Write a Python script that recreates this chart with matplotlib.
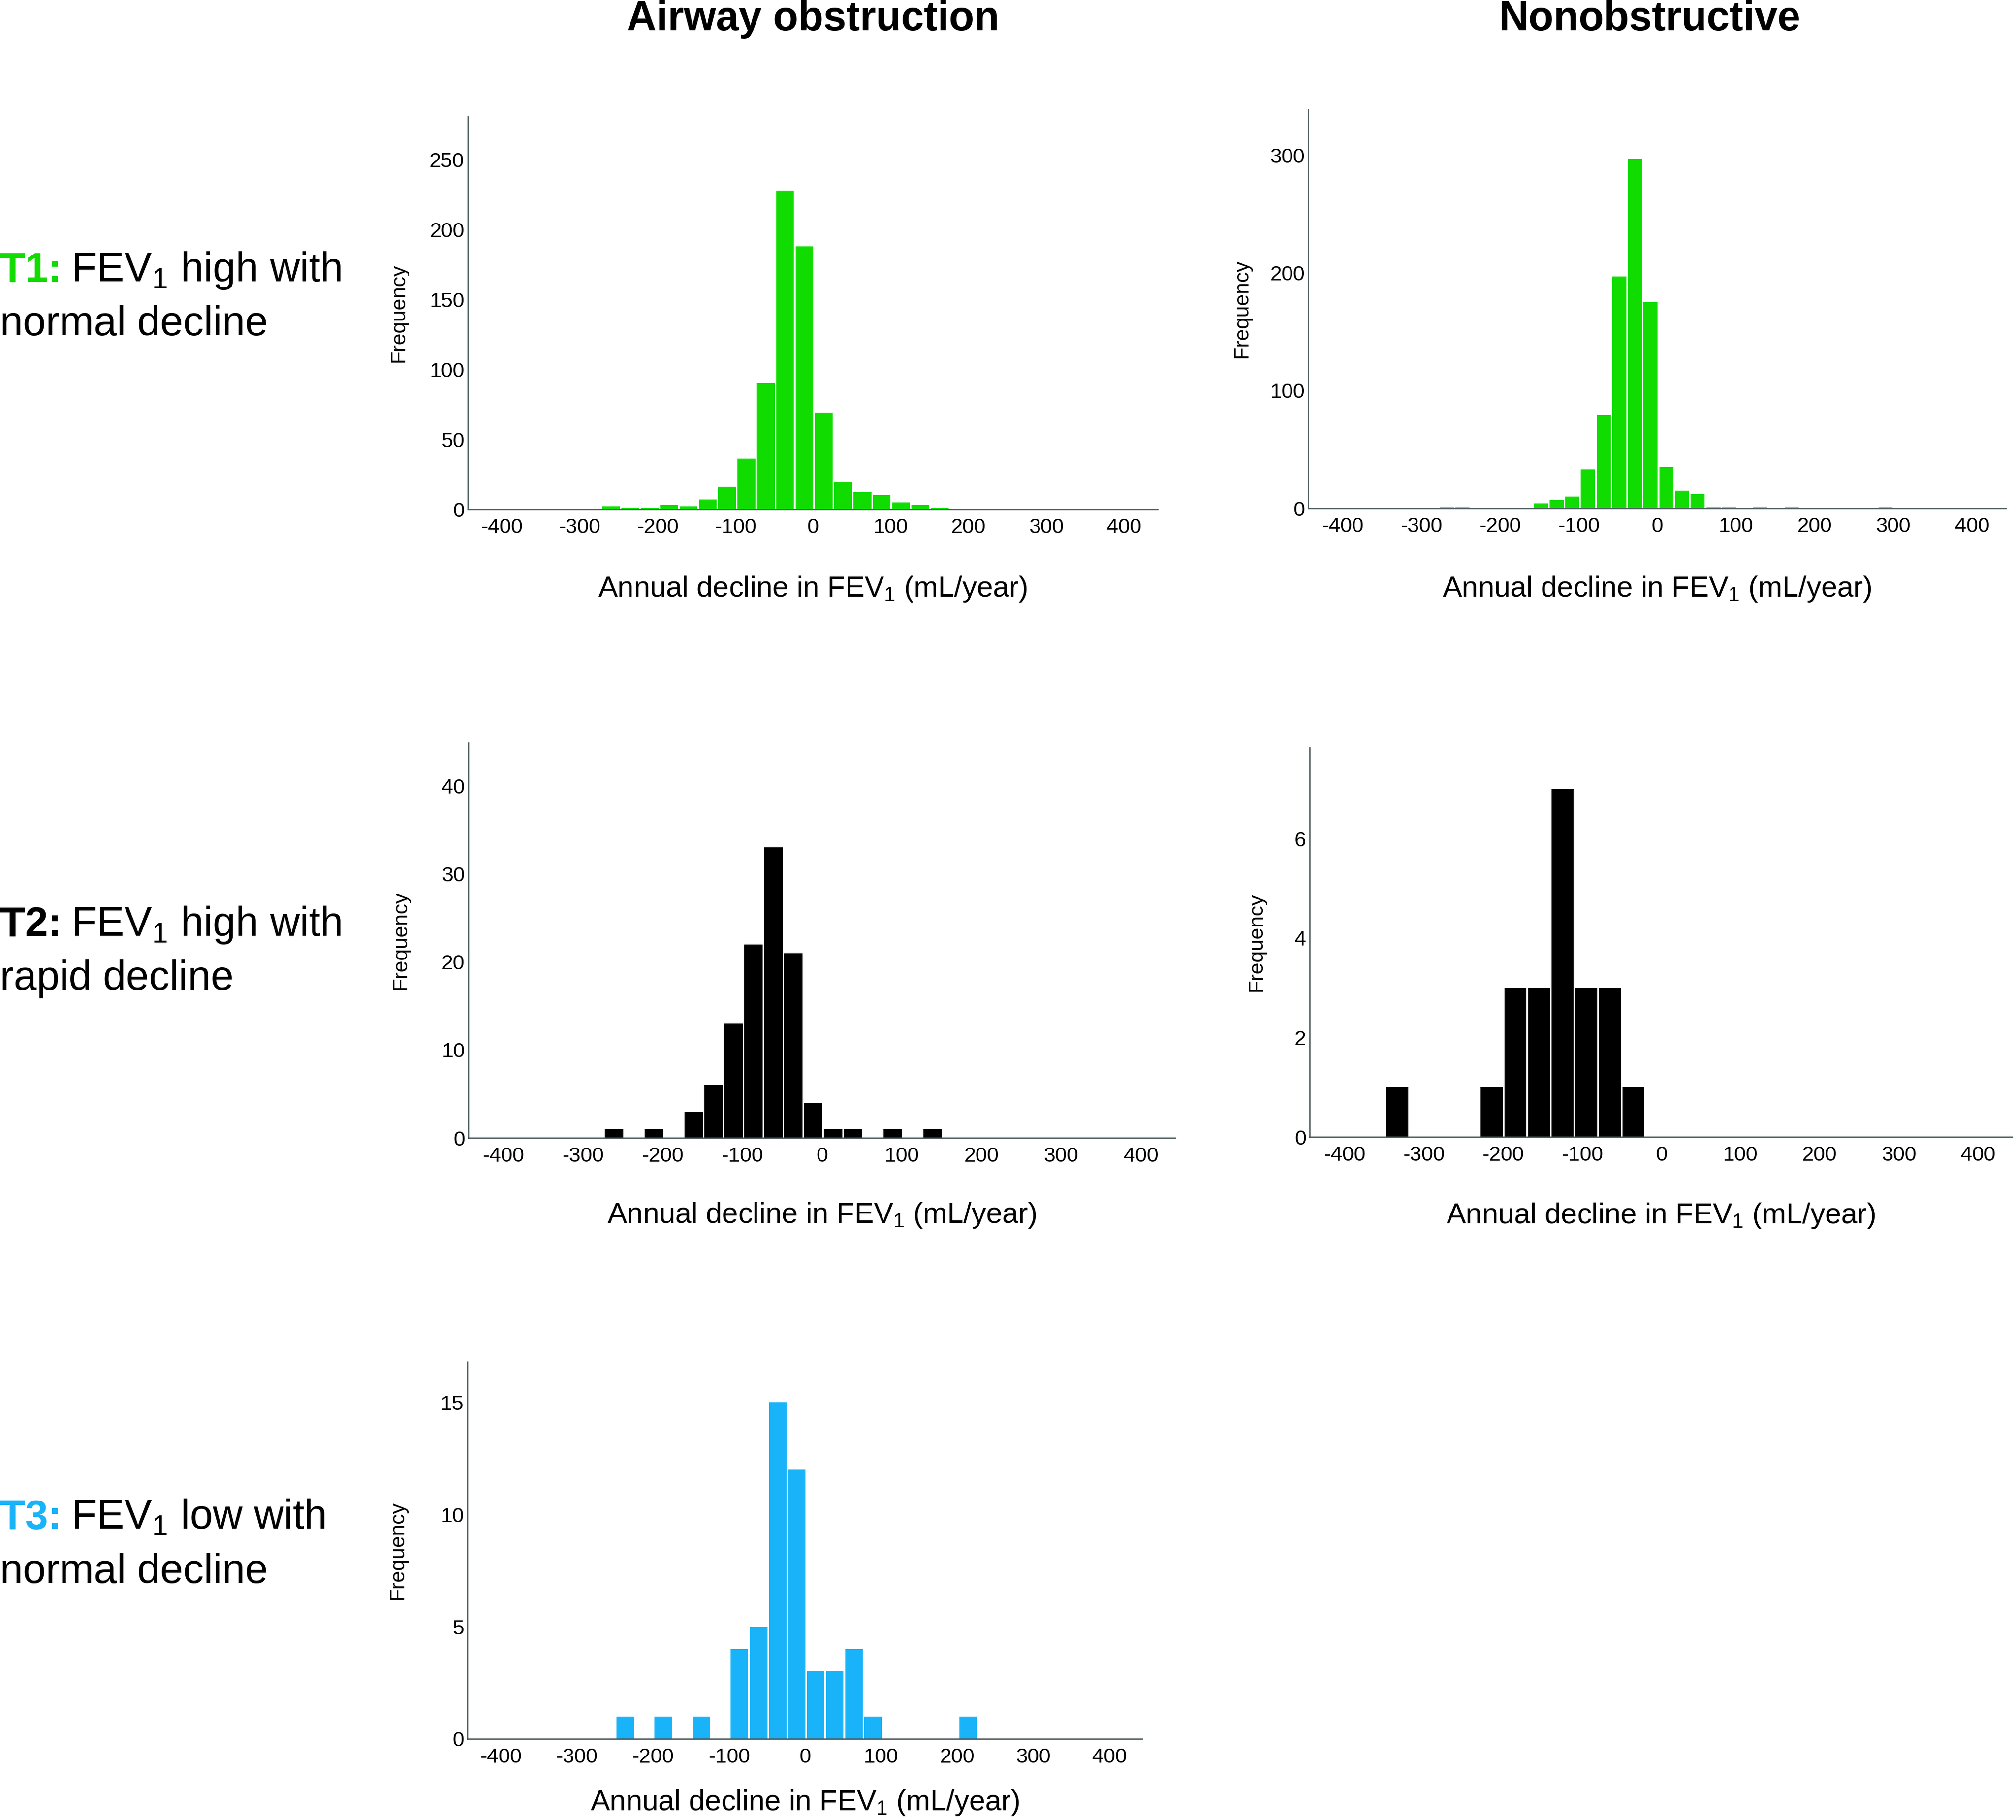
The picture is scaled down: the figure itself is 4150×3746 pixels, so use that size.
import matplotlib
matplotlib.use("Agg")
import matplotlib.pyplot as plt

# x ticks shared by every panel
x_ticks = [-400, -300, -200, -100, 0, 100, 200, 300, 400]

# airway obstruction, T1 (bins)
ao_t1_start = -272.2
ao_t1_width = 24.86
ao_t1_counts = [2, 1, 1, 3, 2, 7, 16, 36, 90, 228, 188, 69, 19, 12, 10, 5, 3, 1]

# nonobstructive, T1
no_t1_start = -277.6
no_t1_width = 19.93
no_t1_counts = [1, 1, 0, 0, 0, 0, 4, 7, 10, 33, 79, 197, 297, 175, 35, 15, 12,
                1, 1, 0, 1, 0, 1, 0, 0, 0, 0, 0, 1]

# airway obstruction, T2
ao_t2_start = -273.5
ao_t2_width = 25.0
ao_t2_counts = [1, 0, 1, 0, 3, 6, 13, 22, 33, 21, 4, 1, 1, 0, 1, 0, 1]

# nonobstructive, T2
no_t2_start = -348.0
no_t2_width = 29.8
no_t2_counts = [1, 0, 0, 0, 1, 3, 3, 7, 3, 3, 1]

# airway obstruction, T3
ao_t3_start = -249.0
ao_t3_width = 25.05
ao_t3_counts = [1, 0, 1, 0, 1, 0, 4, 5, 15, 12, 3, 3, 4, 1, 0, 0, 0, 0, 1]

col_titles = ["Airway obstruction", "Nonobstructive"]
row_tags = ["T1:", "T2:", "T3:"]
row_line1 = ["FEV$_\\mathregular{1}$ high with", "FEV$_\\mathregular{1}$ high with",
             "FEV$_\\mathregular{1}$ low with"]
row_line2 = ["normal decline", "rapid decline", "normal decline"]
x_label = "Annual decline in FEV$_\\mathregular{1}$ (mL/year)"

GREEN = "#10dc00"
BLUE = "#18b3f8"
BLACK = "#000000"
SPINE = "#4b5a5b"

W, H = 4150, 3746


def fx(x):
    return x / W


def fy(y):
    return 1 - y / H


def draw_panel(fig, box, counts, start, width, color, ylim, yticks, label_gap, xlabel_drop):
    left, top, right, bottom = box
    ax = fig.add_axes([fx(left), fy(bottom), (right - left) / W, (bottom - top) / H])
    xmin, xmax = -444, 443
    edges = [start + width * i for i in range(len(counts))]
    # white gap between bars of about 3 px
    gap = 3.3 * (xmax - xmin) / (right - left)
    ax.bar([e + gap / 2 for e in edges], counts, width=width - gap, align="edge",
           color=color, linewidth=0, zorder=2)
    ax.set_xlim(xmin, xmax)
    ax.set_ylim(*ylim)
    ax.set_xticks(x_ticks)
    ax.set_yticks(yticks)
    for s in ["top", "right"]:
        ax.spines[s].set_visible(False)
    for s in ["left", "bottom"]:
        ax.spines[s].set_color(SPINE)
        ax.spines[s].set_linewidth(1.9)
        ax.spines[s].set_zorder(3)
    ax.tick_params(axis="x", length=0, pad=13, labelsize=31)
    ax.tick_params(axis="y", length=0, pad=5, labelsize=31)
    fig.text(fx((left + right) / 2), fy(bottom + xlabel_drop), x_label,
             ha="center", va="baseline", fontsize=43)
    fig.text(fx(left - label_gap), fy((top + bottom) / 2), "Frequency",
             rotation=90, ha="right", va="center", fontsize=31)
    return ax


def row_label(fig, i, color, baseline):
    t = fig.text(0, fy(baseline), row_tags[i], color=color, fontsize=61,
                 fontweight="bold", va="baseline", ha="left")
    bb = t.get_window_extent(fig.canvas.get_renderer())
    fig.text(fx(bb.x1 + 20), fy(baseline), row_line1[i], fontsize=61, va="baseline")
    fig.text(0, fy(baseline + 111), row_line2[i], fontsize=61, va="baseline")


def main():
    plt.rcParams["font.family"] = ["Liberation Sans", "DejaVu Sans"]
    plt.rcParams["axes.unicode_minus"] = False
    fig = plt.figure(figsize=(W / 100, H / 100), dpi=100)

    draw_panel(fig, (963, 240, 2383, 1048), ao_t1_counts, ao_t1_start, ao_t1_width,
               GREEN, (0, 280.7), [0, 50, 100, 150, 200, 250], 123, 180)
    draw_panel(fig, (2693, 225, 4129, 1046), no_t1_counts, no_t1_start, no_t1_width,
               GREEN, (0, 339), [0, 100, 200, 300], 117, 182)
    draw_panel(fig, (964, 1529, 2419, 2342), ao_t2_counts, ao_t2_start, ao_t2_width,
               BLACK, (0, 44.9), [0, 10, 20, 30, 40], 119, 175)
    draw_panel(fig, (2696, 1539, 4142, 2340), no_t2_counts, no_t2_start, no_t2_width,
               BLACK, (0, 7.83), [0, 2, 4, 6], 89, 178)
    draw_panel(fig, (962, 2803, 2351, 3579), ao_t3_counts, ao_t3_start, ao_t3_width,
               BLUE, (0, 16.8), [0, 5, 10, 15], 123, 147)

    # column headers
    fig.text(fx(1673), fy(62), col_titles[0], ha="center", va="baseline",
             fontsize=61, fontweight="bold")
    fig.text(fx(3396), fy(62), col_titles[1], ha="center", va="baseline",
             fontsize=61, fontweight="bold")

    fig.canvas.draw()
    row_label(fig, 0, GREEN, 579)
    row_label(fig, 1, BLACK, 1926)
    row_label(fig, 2, BLUE, 3147)

    fig.savefig("out.png", dpi=100)


if __name__ == "__main__":
    main()
